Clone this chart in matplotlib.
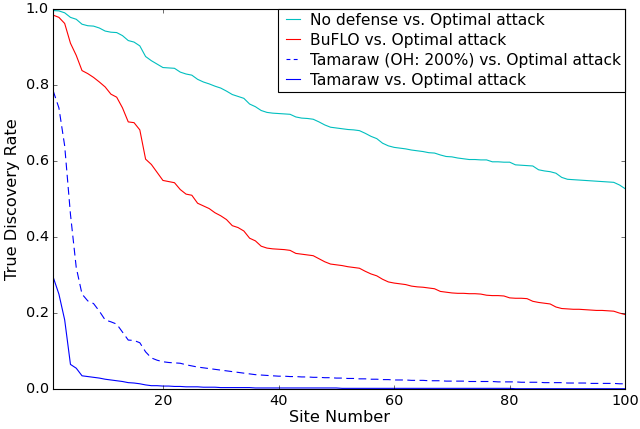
import numpy as np
import matplotlib
matplotlib.use("Agg")
import matplotlib.pyplot as plt

plt.style.use("classic")

sites = list(range(1, 101))

no_defense = [
    0.996, 0.995, 0.990, 0.978, 0.973, 0.960, 0.956, 0.955, 0.950, 0.942,
    0.939, 0.938, 0.930, 0.917, 0.913, 0.903, 0.875, 0.864, 0.855, 0.846,
    0.845, 0.844, 0.834, 0.829, 0.826, 0.815, 0.808, 0.803, 0.797, 0.792,
    0.784, 0.775, 0.770, 0.765, 0.750, 0.743, 0.733, 0.728, 0.726, 0.725,
    0.724, 0.723, 0.716, 0.713, 0.712, 0.710, 0.703, 0.695, 0.689, 0.687,
    0.685, 0.683, 0.682, 0.680, 0.673, 0.665, 0.659, 0.647, 0.640, 0.636,
    0.634, 0.632, 0.629, 0.627, 0.625, 0.622, 0.621, 0.616, 0.612, 0.611,
    0.608, 0.606, 0.604, 0.604, 0.603, 0.603, 0.598, 0.598, 0.597, 0.597,
    0.590, 0.589, 0.588, 0.587, 0.577, 0.574, 0.572, 0.568, 0.557, 0.552,
    0.551, 0.550, 0.549, 0.548, 0.547, 0.546, 0.545, 0.544, 0.537, 0.527,
]

buflo = [
    0.984, 0.978, 0.962, 0.910, 0.878, 0.838, 0.830, 0.820, 0.808, 0.795,
    0.776, 0.768, 0.740, 0.703, 0.701, 0.682, 0.605, 0.591, 0.570, 0.549,
    0.546, 0.543, 0.525, 0.513, 0.510, 0.489, 0.482, 0.475, 0.464, 0.456,
    0.446, 0.430, 0.425, 0.416, 0.397, 0.390, 0.376, 0.371, 0.369, 0.368,
    0.367, 0.365, 0.357, 0.355, 0.353, 0.351, 0.343, 0.335, 0.329, 0.327,
    0.325, 0.322, 0.320, 0.318, 0.310, 0.303, 0.298, 0.289, 0.282, 0.279,
    0.277, 0.275, 0.271, 0.269, 0.268, 0.266, 0.264, 0.257, 0.255, 0.253,
    0.252, 0.252, 0.251, 0.251, 0.250, 0.247, 0.246, 0.246, 0.245, 0.240,
    0.239, 0.239, 0.238, 0.231, 0.228, 0.226, 0.224, 0.216, 0.212, 0.211,
    0.210, 0.210, 0.209, 0.208, 0.207, 0.207, 0.206, 0.205, 0.200, 0.196,
]

tamaraw_oh200 = [
    0.785, 0.740, 0.640, 0.460, 0.320, 0.250, 0.232, 0.225, 0.205, 0.182,
    0.177, 0.171, 0.150, 0.129, 0.128, 0.122, 0.098, 0.082, 0.076, 0.072,
    0.070, 0.069, 0.068, 0.064, 0.061, 0.058, 0.056, 0.054, 0.052, 0.050,
    0.048, 0.046, 0.044, 0.042, 0.040, 0.038, 0.037, 0.036, 0.035, 0.034,
    0.034, 0.033, 0.033, 0.032, 0.032, 0.031, 0.031, 0.030, 0.030, 0.029,
    0.029, 0.028, 0.028, 0.027, 0.027, 0.026, 0.026, 0.025, 0.025, 0.024,
    0.024, 0.024, 0.023, 0.023, 0.023, 0.022, 0.022, 0.022, 0.021, 0.021,
    0.021, 0.021, 0.020, 0.020, 0.020, 0.020, 0.020, 0.019, 0.019, 0.019,
    0.019, 0.018, 0.018, 0.018, 0.018, 0.017, 0.017, 0.017, 0.017, 0.016,
    0.016, 0.016, 0.016, 0.015, 0.015, 0.015, 0.015, 0.015, 0.014, 0.014,
]

tamaraw = [
    0.295, 0.250, 0.182, 0.065, 0.055, 0.035, 0.033, 0.031, 0.029, 0.026,
    0.024, 0.022, 0.020, 0.017, 0.016, 0.014, 0.011, 0.009, 0.009, 0.008,
    0.008, 0.007, 0.007, 0.006, 0.006, 0.006, 0.005, 0.005, 0.005, 0.004,
    0.004, 0.004, 0.004, 0.004, 0.004, 0.003, 0.003, 0.003, 0.003, 0.003,
    0.003, 0.003, 0.003, 0.003, 0.003, 0.003, 0.003, 0.003, 0.003, 0.003,
    0.002, 0.002, 0.002, 0.002, 0.002, 0.002, 0.002, 0.002, 0.002, 0.002,
    0.002, 0.002, 0.002, 0.002, 0.002, 0.002, 0.002, 0.002, 0.002, 0.002,
    0.002, 0.002, 0.002, 0.002, 0.002, 0.002, 0.002, 0.002, 0.002, 0.002,
    0.001, 0.001, 0.001, 0.001, 0.001, 0.001, 0.001, 0.001, 0.001, 0.001,
    0.001, 0.001, 0.001, 0.001, 0.001, 0.001, 0.001, 0.001, 0.001, 0.001,
]

fig, ax = plt.subplots(figsize=(8, 5.3625), dpi=80)
fig.subplots_adjust(left=0.083, right=0.977, bottom=0.093, top=0.979)

ax.plot(sites, no_defense, color="c", lw=1, label="No defense vs. Optimal attack")
ax.plot(sites, buflo, color="r", lw=1, label="BuFLO vs. Optimal attack")
ax.plot(sites, tamaraw_oh200, color="b", lw=1, linestyle="--", dashes=(7, 4),
        label="Tamaraw (OH: 200%) vs. Optimal attack")
ax.plot(sites, tamaraw, color="b", lw=1, label="Tamaraw vs. Optimal attack")

ax.set_xlim(1, 100)
ax.set_ylim(0, 1)
ax.set_xticks([20, 40, 60, 80, 100])
ax.set_yticks([0.0, 0.2, 0.4, 0.6, 0.8, 1.0])
ax.tick_params(labelsize=13)
ax.set_xlabel("Site Number", fontsize=14.5, labelpad=2)
ax.set_ylabel("True Discovery Rate", fontsize=14.5)

leg = ax.legend(loc="upper right", bbox_to_anchor=(1, 1), borderaxespad=0,
                fontsize=14, handlelength=1.5, handletextpad=0.35,
                labelspacing=0.32, borderpad=0.25, fancybox=False)
leg.get_lines()[2].set_dashes((3.5, 3))

fig.savefig("out.png", dpi=80)
